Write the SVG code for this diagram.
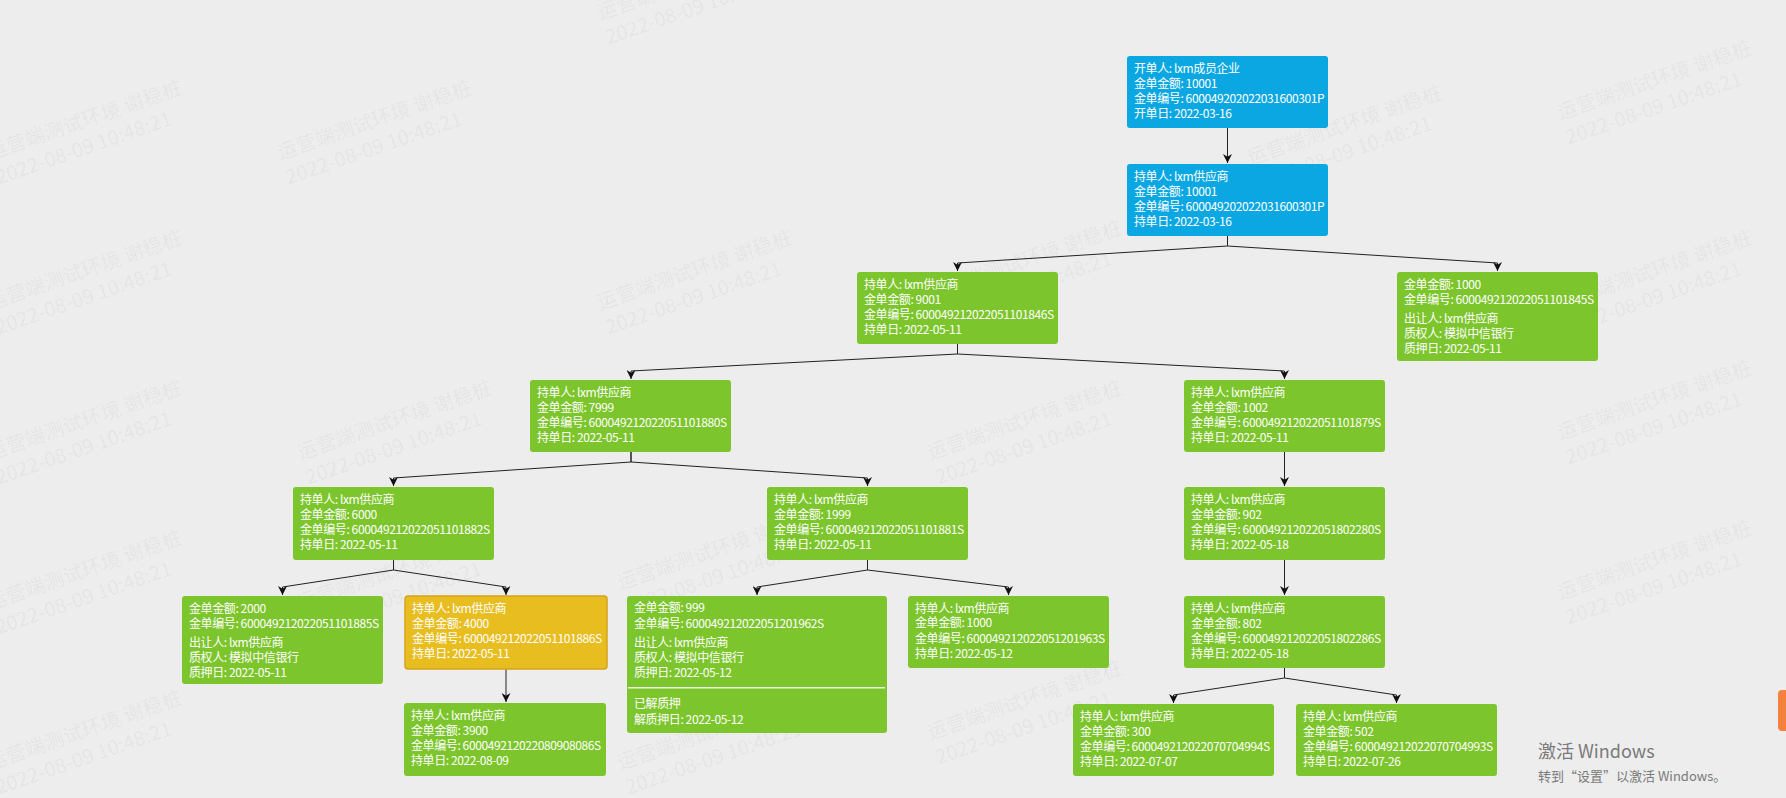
<svg xmlns="http://www.w3.org/2000/svg" width="1786" height="798" viewBox="0 0 1786 798">
<style>
.bg{fill:#ededed}
.node rect.b{fill:#0ba7e2}
.node rect.g{fill:#7cc52c}
.node rect.y{fill:#e8bd1f;stroke:#d6a31a;stroke-width:1.5}
.node text{font-family:"Noto Sans CJK SC","Microsoft YaHei",sans-serif;font-size:12px;letter-spacing:-0.4px;fill:#fff}
.conn path{fill:none;stroke:#222;stroke-width:1}
.win{font-family:"Noto Sans CJK SC",sans-serif;fill:#7a7a7a}
</style>
<defs>
<marker id="arr" viewBox="0 0 10 10" refX="10" refY="5" markerWidth="9" markerHeight="9" markerUnits="userSpaceOnUse" orient="auto">
<path d="M0,0 L10,5 L0,10 L3,5 z" fill="#111"/>
</marker>
<g id="wmk" font-family="Noto Sans CJK SC, sans-serif" font-size="20" fill="#000" fill-opacity="0.05"><text x="0" y="0">运营端测试环境 谢稳桩</text><text x="0" y="26">2022-08-09 10:48:21</text></g>
</defs>
<rect class="bg" x="0" y="0" width="1786" height="798"/>
<g class="wm">
<use href="#wmk" transform="translate(-10,160) rotate(-19)"/>
<use href="#wmk" transform="translate(280,160) rotate(-19)"/>
<use href="#wmk" transform="translate(600,20) rotate(-19)"/>
<use href="#wmk" transform="translate(1250,165) rotate(-19)"/>
<use href="#wmk" transform="translate(1560,120) rotate(-19)"/>
<use href="#wmk" transform="translate(-10,310) rotate(-19)"/>
<use href="#wmk" transform="translate(600,310) rotate(-19)"/>
<use href="#wmk" transform="translate(930,300) rotate(-19)"/>
<use href="#wmk" transform="translate(1560,310) rotate(-19)"/>
<use href="#wmk" transform="translate(-10,460) rotate(-19)"/>
<use href="#wmk" transform="translate(300,460) rotate(-19)"/>
<use href="#wmk" transform="translate(930,460) rotate(-19)"/>
<use href="#wmk" transform="translate(1560,440) rotate(-19)"/>
<use href="#wmk" transform="translate(-10,610) rotate(-19)"/>
<use href="#wmk" transform="translate(300,610) rotate(-19)"/>
<use href="#wmk" transform="translate(620,590) rotate(-19)"/>
<use href="#wmk" transform="translate(1560,600) rotate(-19)"/>
<use href="#wmk" transform="translate(-10,770) rotate(-19)"/>
<use href="#wmk" transform="translate(620,770) rotate(-19)"/>
<use href="#wmk" transform="translate(930,740) rotate(-19)"/>
</g>
<g class="conn">
<path d="M1227.5,128 V163" marker-end="url(#arr)"/>
<path d="M1227.5,236 V246 L957.5,263 V271" marker-end="url(#arr)"/>
<path d="M1227.5,236 V246 L1497.5,263 V271" marker-end="url(#arr)"/>
<path d="M957.5,344 V354 L631,371 V379" marker-end="url(#arr)"/>
<path d="M957.5,344 V354 L1284.5,371 V379" marker-end="url(#arr)"/>
<path d="M631,452 V462 L393.5,478 V486" marker-end="url(#arr)"/>
<path d="M631,452 V462 L867.5,478 V486" marker-end="url(#arr)"/>
<path d="M1284.5,452 V486" marker-end="url(#arr)"/>
<path d="M393.5,560 V570 L282.5,587 V595" marker-end="url(#arr)"/>
<path d="M393.5,560 V570 L506,587 V595" marker-end="url(#arr)"/>
<path d="M867.5,560 V570 L757,587 V595" marker-end="url(#arr)"/>
<path d="M867.5,560 V570 L1008.5,587 V595" marker-end="url(#arr)"/>
<path d="M1284.5,560 V595" marker-end="url(#arr)"/>
<path d="M506,669 V702" marker-end="url(#arr)"/>
<path d="M1284.5,668 V678 L1173.5,695 V703" marker-end="url(#arr)"/>
<path d="M1284.5,668 V678 L1396.5,695 V703" marker-end="url(#arr)"/>
</g>
<g id="nA" class="node" transform="translate(1127,56)"><rect class="b" width="201" height="72" rx="3"/>
<text x="7" y="16.5">开单人: lxm成员企业</text><text x="7" y="31.7">金单金额: 10001</text><text x="7" y="46.9">金单编号: 600049202022031600301P</text><text x="7" y="62.1">开单日: 2022-03-16</text></g>
<g id="nB" class="node" transform="translate(1127,164)"><rect class="b" width="201" height="72" rx="3"/>
<text x="7" y="16.5">持单人: lxm供应商</text><text x="7" y="31.7">金单金额: 10001</text><text x="7" y="46.9">金单编号: 600049202022031600301P</text><text x="7" y="62.1">持单日: 2022-03-16</text></g>
<g id="nC" class="node" transform="translate(857,272)"><rect class="g" width="201" height="72" rx="3"/>
<text x="7" y="16.5">持单人: lxm供应商</text><text x="7" y="31.7">金单金额: 9001</text><text x="7" y="46.9">金单编号: 600049212022051101846S</text><text x="7" y="62.1">持单日: 2022-05-11</text></g>
<g id="nD" class="node" transform="translate(1397,272)"><rect class="g" width="201" height="89" rx="3"/>
<text x="7" y="16.5">金单金额: 1000</text><text x="7" y="31.7">金单编号: 600049212022051101845S</text><text x="7" y="50.7">出让人: lxm供应商</text><text x="7" y="65.9">质权人: 模拟中信银行</text><text x="7" y="81.1">质押日: 2022-05-11</text></g>
<g id="nE" class="node" transform="translate(530,380)"><rect class="g" width="201" height="72" rx="3"/>
<text x="7" y="16.5">持单人: lxm供应商</text><text x="7" y="31.7">金单金额: 7999</text><text x="7" y="46.9">金单编号: 600049212022051101880S</text><text x="7" y="62.1">持单日: 2022-05-11</text></g>
<g id="nF" class="node" transform="translate(1184,380)"><rect class="g" width="201" height="72" rx="3"/>
<text x="7" y="16.5">持单人: lxm供应商</text><text x="7" y="31.7">金单金额: 1002</text><text x="7" y="46.9">金单编号: 600049212022051101879S</text><text x="7" y="62.1">持单日: 2022-05-11</text></g>
<g id="nG" class="node" transform="translate(293,487)"><rect class="g" width="201" height="73" rx="3"/>
<text x="7" y="16.5">持单人: lxm供应商</text><text x="7" y="31.7">金单金额: 6000</text><text x="7" y="46.9">金单编号: 600049212022051101882S</text><text x="7" y="62.1">持单日: 2022-05-11</text></g>
<g id="nH" class="node" transform="translate(767,487)"><rect class="g" width="201" height="73" rx="3"/>
<text x="7" y="16.5">持单人: lxm供应商</text><text x="7" y="31.7">金单金额: 1999</text><text x="7" y="46.9">金单编号: 600049212022051101881S</text><text x="7" y="62.1">持单日: 2022-05-11</text></g>
<g id="nI" class="node" transform="translate(1184,487)"><rect class="g" width="201" height="73" rx="3"/>
<text x="7" y="16.5">持单人: lxm供应商</text><text x="7" y="31.7">金单金额: 902</text><text x="7" y="46.9">金单编号: 600049212022051802280S</text><text x="7" y="62.1">持单日: 2022-05-18</text></g>
<g id="nJ" class="node" transform="translate(182,596)"><rect class="g" width="201" height="88" rx="3"/>
<text x="7" y="16.5">金单金额: 2000</text><text x="7" y="31.7">金单编号: 600049212022051101885S</text><text x="7" y="50.7">出让人: lxm供应商</text><text x="7" y="65.9">质权人: 模拟中信银行</text><text x="7" y="81.1">质押日: 2022-05-11</text></g>
<g id="nK" class="node" transform="translate(405,596)"><rect class="y" width="202" height="73" rx="3"/>
<text x="7" y="16.5">持单人: lxm供应商</text><text x="7" y="31.7">金单金额: 4000</text><text x="7" y="46.9">金单编号: 600049212022051101886S</text><text x="7" y="62.1">持单日: 2022-05-11</text></g>
<g id="nL" class="node" transform="translate(627,596)"><rect class="g" width="260" height="137" rx="3"/>
<text x="7" y="15.5">金单金额: 999</text><text x="7" y="31.7">金单编号: 600049212022051201962S</text><text x="7" y="50.7">出让人: lxm供应商</text><text x="7" y="65.9">质权人: 模拟中信银行</text><text x="7" y="81.1">质押日: 2022-05-12</text>
<line x1="1" y1="91.7" x2="258" y2="91.7" stroke="#e9f5dc" stroke-width="1.5"/>
<text x="7" y="111.8">已解质押</text><text x="7" y="127.5">解质押日: 2022-05-12</text></g>
<g id="nM" class="node" transform="translate(908,596)"><rect class="g" width="201" height="72" rx="3"/>
<text x="7" y="16.5">持单人: lxm供应商</text><text x="7" y="31.2">金单金额: 1000</text><text x="7" y="46.5">金单编号: 600049212022051201963S</text><text x="7" y="61.6">持单日: 2022-05-12</text></g>
<g id="nN" class="node" transform="translate(1184,596)"><rect class="g" width="201" height="72" rx="3"/>
<text x="7" y="16.5">持单人: lxm供应商</text><text x="7" y="31.7">金单金额: 802</text><text x="7" y="46.9">金单编号: 600049212022051802286S</text><text x="7" y="62.1">持单日: 2022-05-18</text></g>
<g id="nO" class="node" transform="translate(404,703)"><rect class="g" width="202" height="73" rx="3"/>
<text x="7" y="16.5">持单人: lxm供应商</text><text x="7" y="31.7">金单金额: 3900</text><text x="7" y="46.9">金单编号: 600049212022080908086S</text><text x="7" y="62.1">持单日: 2022-08-09</text></g>
<g id="nP" class="node" transform="translate(1073,704)"><rect class="g" width="201" height="72" rx="3"/>
<text x="7" y="16.5">持单人: lxm供应商</text><text x="7" y="31.7">金单金额: 300</text><text x="7" y="46.9">金单编号: 600049212022070704994S</text><text x="7" y="62.1">持单日: 2022-07-07</text></g>
<g id="nQ" class="node" transform="translate(1296,704)"><rect class="g" width="201" height="72" rx="3"/>
<text x="7" y="16.5">持单人: lxm供应商</text><text x="7" y="31.7">金单金额: 502</text><text x="7" y="46.9">金单编号: 600049212022070704993S</text><text x="7" y="62.1">持单日: 2022-07-26</text></g>
<text class="win" x="1538" y="758" font-size="18">激活 Windows</text>
<text class="win" x="1538" y="781" font-size="13">转到“设置”以激活 Windows。</text>
<rect x="1778" y="690" width="14" height="41" rx="4" fill="#f4813e"/>
</svg>
